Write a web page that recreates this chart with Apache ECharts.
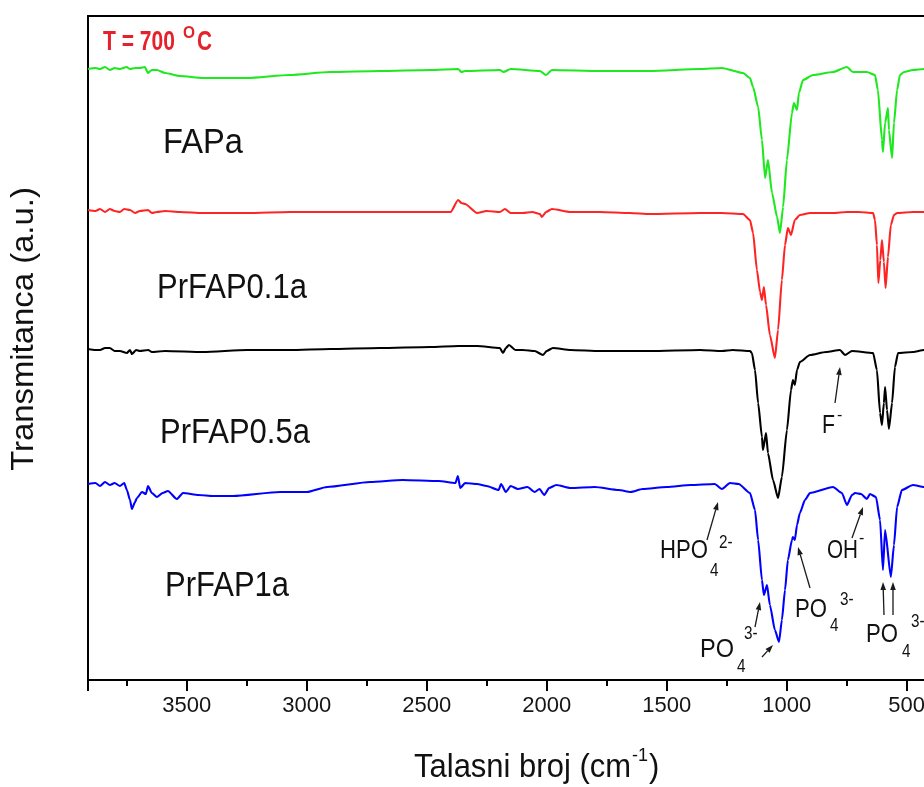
<!DOCTYPE html>
<html><head><meta charset="utf-8">
<script src="https://cdn.jsdelivr.net/npm/echarts@6/dist/echarts.min.js"></script>
<style>html,body{margin:0;padding:0;background:#fff}#c{width:924px;height:787px}</style>
</head><body><div id="c"></div>
<script>
const FAMILY = '"Liberation Sans", Arial, Helvetica, sans-serif';

// x: wavenumber (cm^-1), y: transmittance (a.u., offset spectra)
const FAPa = [
[3911,611],[3880,612],[3861,611],[3840,613],[3820,610],[3800,612],[3778,611],[3750,613],[3736,611],[3715,612],[3695,612],[3674,613],[3661,607],[3645,610],[3624,610],[3590,607],[3528,604],[3432,602],[3249,602],[3070,605],[2903,608],[2695,609],[2486,610],[2369,611],[2355,608],[2340,609],[2195,610],[2180,608],[2150,611],[2028,609],[2003,605],[1978,610],[1778,609],[1570,609],[1361,611],[1270,612],[1182,607],[1153,602],[1140,593],[1119,573],[1103,540],[1090,502],[1078,520],[1061,487],[1040,463],[1028,447],[1015,473],[999,520],[978,567],[970,577],[957,570],[949,587],[932,600],[890,605],[807,608],[749,613],[724,608],[666,608],[632,605],[620,590],[603,540],[599,528],[590,557],[578,572],[574,550],[561,522],[553,557],[540,590],[528,605],[511,608],[474,610],[428,611],[400,611]
];
const PrFAP01a = [
[3911,470],[3880,469],[3861,471],[3840,468],[3820,471],[3800,469],[3778,468],[3760,471],[3736,470],[3715,467],[3695,469],[3661,470],[3645,467],[3624,468],[3590,469],[3528,468],[3432,467],[3249,467],[3070,468],[2903,468],[2695,468],[2486,468],[2400,468],[2369,480],[2355,477],[2340,476],[2290,467],[2250,469],[2195,468],[2174,471],[2150,467],[2100,467],[2060,468],[2028,466],[2020,463],[2003,468],[1978,471],[1900,468],[1778,468],[1653,467],[1570,466],[1361,467],[1270,467],[1182,466],[1153,460],[1140,447],[1124,410],[1111,388],[1103,380],[1095,393],[1086,375],[1070,345],[1049,322],[1036,350],[1020,400],[1007,435],[995,452],[982,445],[966,460],[945,465],[903,467],[807,467],[749,468],[700,468],[640,467],[632,460],[624,435],[618,397],[610,420],[603,440],[595,418],[588,392],[578,423],[566,455],[553,465],[540,467],[474,468],[428,468],[400,468]
];
const PrFAP05a = [
[3911,331],[3880,330],[3861,330],[3840,332],[3820,332],[3800,329],[3778,329],[3749,327],[3736,330],[3728,326],[3710,330],[3695,329],[3660,330],[3645,328],[3590,329],[3432,328],[3249,330],[3070,330],[2903,331],[2695,332],[2486,333],[2369,334],[2290,334],[2195,332],[2182,327],[2170,332],[2157,335],[2130,330],[2100,330],[2050,329],[2015,325],[2000,329],[1974,332],[1900,330],[1778,329],[1570,329],[1361,330],[1270,329],[1224,330],[1153,329],[1145,327],[1132,310],[1119,277],[1103,243],[1099,230],[1086,247],[1078,227],[1057,200],[1036,182],[1020,203],[999,250],[982,290],[974,300],[966,295],[957,310],[945,318],[903,325],[836,328],[778,330],[757,325],[728,329],[640,327],[624,310],[611,267],[603,255],[595,277],[590,293],[582,270],[574,251],[561,277],[549,313],[536,327],[474,328],[428,330],[400,330]
];
const PrFAP1a = [
[3911,196],[3880,197],[3861,194],[3840,198],[3820,195],[3800,197],[3778,194],[3760,197],[3749,190],[3736,180],[3728,171],[3715,178],[3707,182],[3686,188],[3670,186],[3661,194],[3645,187],[3624,183],[3600,187],[3578,189],[3541,181],[3515,187],[3450,185],[3390,184],[3307,184],[3111,188],[2999,188],[2915,193],[2736,198],[2600,200],[2450,199],[2380,197],[2370,204],[2360,192],[2340,197],[2290,196],[2250,194],[2200,190],[2190,196],[2170,188],[2150,194],[2120,191],[2080,193],[2050,188],[2030,191],[2010,185],[1990,192],[1960,195],[1900,192],[1800,193],[1700,190],[1650,188],[1600,191],[1500,193],[1400,195],[1300,196],[1270,191],[1236,197],[1200,196],[1153,187],[1132,170],[1119,140],[1103,100],[1095,85],[1082,95],[1070,75],[1049,50],[1032,38],[1020,60],[1007,90],[995,120],[978,140],[974,143],[966,140],[957,155],[945,167],[924,180],[903,187],[807,193],[770,187],[749,175],[728,185],[715,187],[690,186],[666,181],[653,186],[628,183],[611,160],[599,110],[590,150],[566,103],[553,135],[540,173],[520,190],[474,195],[428,193],[400,193]
];

const seriesNames = ['FAPa', 'PrFAP0.1a', 'PrFAP0.5a', 'PrFAP1a'];
const seriesColors = ['#1ee81e', '#ff2424', '#000000', '#0000ff'];
const xMin = 0, xMax = 3911, xMajor = 500, xMinor = 250;
const yMin = 0, yMax = 664;

const mctx = document.createElement('canvas').getContext('2d');
function measure(text, size, bold) {
  mctx.font = (bold ? 'bold ' : '') + size + 'px ' + FAMILY;
  return mctx.measureText(text).width;
}
function txt(x, y, text, size, o) {
  o = o || {};
  let sx = o.sx || 1;
  if (o.fitW) sx = o.fitW / measure(text, size, o.bold);
  return {
    type: 'text', x: x, y: y, scaleX: sx, scaleY: o.sy || 1, rotation: o.rot || 0,
    silent: true, z: 100,
    style: {
      x: 0, y: 0, text: text,
      font: (o.bold ? 'bold ' : '') + size + 'px ' + FAMILY,
      fill: o.color || '#111',
      textAlign: o.align || 'left', align: o.align || 'left',
      textVerticalAlign: 'middle', verticalAlign: 'middle'
    }
  };
}
function arrow(x1, y1, x2, y2) {
  const dx = x2 - x1, dy = y2 - y1, L = Math.hypot(dx, dy);
  const ux = dx / L, uy = dy / L, h = 8, w = 2.8;
  const bx = x2 - ux * h, by = y2 - uy * h;
  return [
    { type: 'line', silent: true, z: 100, shape: { x1: x1, y1: y1, x2: bx, y2: by }, style: { stroke: '#1a1a1a', lineWidth: 1.3 } },
    { type: 'polygon', silent: true, z: 100, shape: { points: [[x2, y2], [bx - uy * w, by + ux * w], [bx + uy * w, by - ux * w]] }, style: { fill: '#1a1a1a' } }
  ];
}

const graphics = [];
// temperature tag
graphics.push(txt(103, 42, 'T = 700', 27, { bold: true, fitW: 72, sy: 1.04, color: '#e5222b' }));
graphics.push(txt(183, 34, 'O', 16, { bold: true, fitW: 12, color: '#e5222b' }));
graphics.push(txt(197, 42, 'C', 27, { bold: true, fitW: 15, sy: 1.04, color: '#e5222b' }));
// sample labels
graphics.push(txt(163, 143, seriesNames[0], 31, { sy: 1.12, fitW: 80 }));
graphics.push(txt(157, 288, seriesNames[1], 31, { sy: 1.12 }));
graphics.push(txt(160, 433, seriesNames[2], 31, { sy: 1.12 }));
graphics.push(txt(165, 586.5, seriesNames[3], 31, { sy: 1.12 }));
// band annotations
graphics.push(txt(822, 426, 'F', 25, { fitW: 13 }), txt(837, 416, '-', 16));
graphics.push(txt(827, 551, 'OH', 25, { fitW: 31 }), txt(859, 539, '-', 16));
graphics.push(txt(660, 551, 'HPO', 25, { fitW: 48 }), txt(710, 571, '4', 18, { sx: 0.85 }), txt(719, 543, '2-', 18, { sx: 0.85 }));
graphics.push(txt(795, 610, 'PO', 25, { fitW: 32 }), txt(830, 626, '4', 18, { sx: 0.85 }), txt(840, 600, '3-', 18, { sx: 0.85 }));
graphics.push(txt(700, 650, 'PO', 25, { fitW: 34 }), txt(737, 667, '4', 18, { sx: 0.85 }), txt(744, 634, '3-', 18, { sx: 0.85 }));
graphics.push(txt(866, 635, 'PO', 25, { fitW: 32 }), txt(902, 652, '4', 18, { sx: 0.85 }), txt(911, 622, '3-', 18, { sx: 0.85 }));
// arrows
[[835, 403, 840, 367], [852, 538, 863, 507], [707, 540, 718, 502], [810, 588, 798, 547],
 [755, 627, 760, 602], [762, 657, 773, 645], [884, 615, 883, 582], [893, 615, 893, 582]]
  .forEach(a => graphics.push(...arrow(a[0], a[1], a[2], a[3])));
// x axis title
(function () {
  let x = 414;
  const p1 = 'Talasni broj (cm', p2 = '-1', p3 = ')';
  graphics.push(txt(x, 768, p1, 31, { sy: 1.05 }));
  x += measure(p1, 31) + 1;
  graphics.push(txt(x, 756, p2, 18));
  x += measure(p2, 18) + 1;
  graphics.push(txt(x, 768, p3, 31, { sy: 1.05 }));
})();
// y axis title
graphics.push(txt(24, 329, 'Transmitanca (a.u.)', 31, { rot: Math.PI / 2, align: 'center', sx: 1.06 }));

const chart = echarts.init(document.getElementById('c'), null, { renderer: 'canvas' });
const series = [FAPa, PrFAP01a, PrFAP05a, PrFAP1a].map((d, i) => ({
  name: seriesNames[i], type: 'line', data: d, showSymbol: false, symbol: 'none',
  smooth: 0.2, smoothMonotone: 'x',
  lineStyle: { color: seriesColors[i], width: 2.1 }, itemStyle: { color: seriesColors[i] },
  animation: false, clip: true, z: 3
}));
chart.setOption({
  animation: false,
  backgroundColor: '#fff',
  grid: { left: 88, top: 16, right: -102.7, bottom: 107, show: true, borderColor: '#000', borderWidth: 2, containLabel: false, outerBoundsMode: 'none' },
  xAxis: [
    {
      type: 'value', min: xMin, max: xMax, inverse: true, interval: xMajor, position: 'bottom',
      axisLine: { show: true, lineStyle: { color: '#000', width: 2 } },
      axisTick: { show: true, inside: false, length: 11, lineStyle: { color: '#000', width: 2 } },
      axisLabel: { show: true, interval: 0, margin: 15, fontSize: 22, color: '#151515', fontFamily: FAMILY,
        formatter: v => (v > 0 && v % xMajor === 0) ? String(v) : '' },
      splitLine: { show: false }
    },
    {
      type: 'value', min: xMin, max: xMax, inverse: true, interval: xMinor, position: 'bottom',
      axisLine: { show: false }, axisLabel: { show: false },
      axisTick: { show: true, inside: false, length: 6, lineStyle: { color: '#000', width: 2 } },
      splitLine: { show: false }
    }
  ],
  yAxis: {
    type: 'value', min: yMin, max: yMax,
    axisLine: { show: true, lineStyle: { color: '#000', width: 2 } },
    axisTick: { show: false }, axisLabel: { show: false }, splitLine: { show: false }
  },
  series: series,
  graphic: { elements: graphics }
});
</script>
</body></html>
